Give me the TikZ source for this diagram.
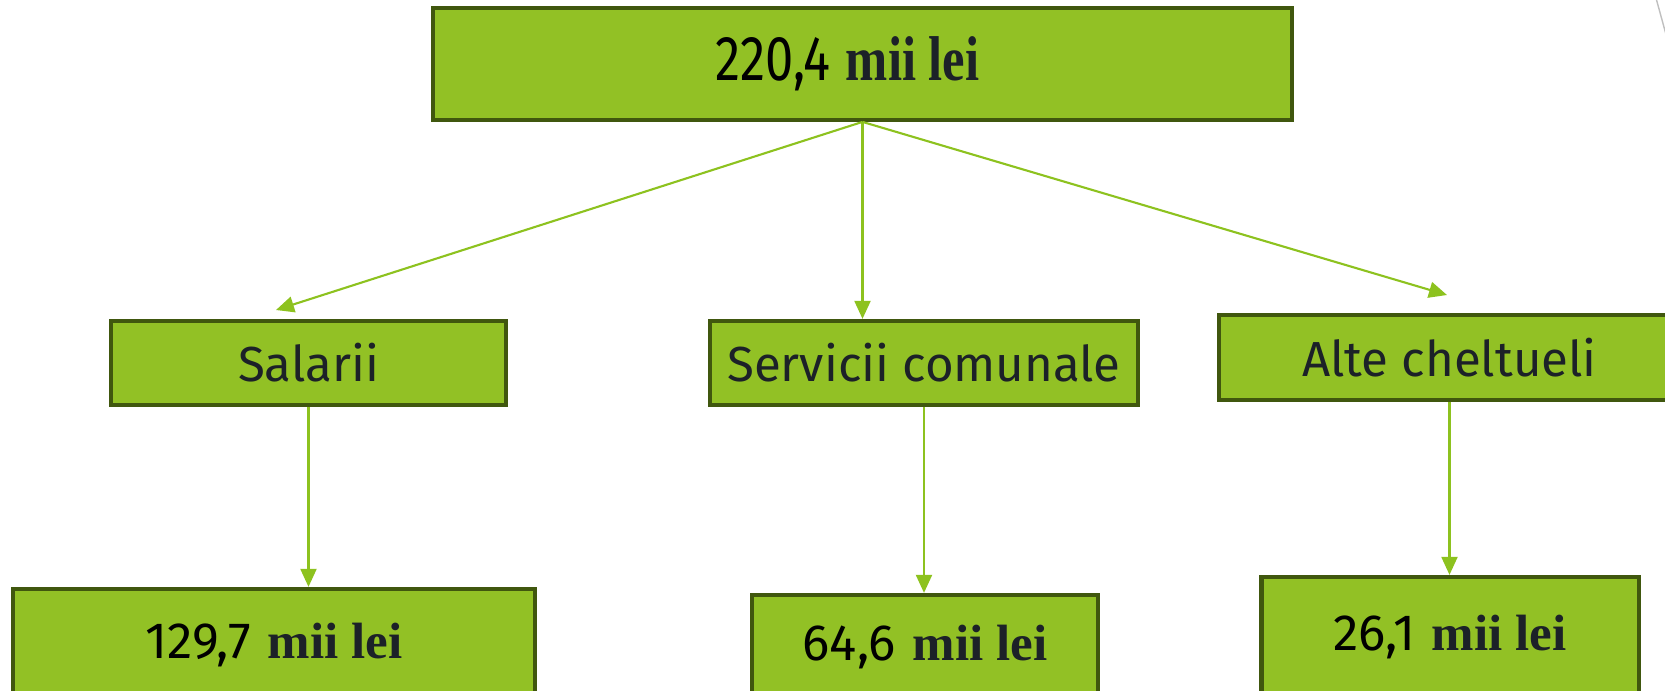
\documentclass[tikz,border=0pt]{standalone}
\usepackage{fontspec}
\usepackage{xcolor}
\newfontfamily\labelfont{Fira Sans}
\newfontfamily\unitfont{Liberation Serif}
\definecolor{boxgreen}{RGB}{146,193,37}
\definecolor{boxedge}{RGB}{64,87,14}
\definecolor{arrgreen}{RGB}{141,194,31}
\definecolor{txtdark}{RGB}{28,33,40}
\usetikzlibrary{arrows.meta}
\newcommand{\suma}[1]{{\labelfont #1} {\unitfont\bfseries\color{txtdark}mii lei}}

\begin{document}
\begin{tikzpicture}[x=0.01cm,y=-0.01cm,
box/.style={draw=boxedge,fill=boxgreen,line width=1.2pt,inner sep=0pt},
lbl/.style={font=\labelfont\fontsize{14}{17}\selectfont,text=txtdark},
num/.style={font=\fontsize{14.5}{17}\selectfont},
arr/.style={draw=arrgreen,line width=0.6pt,-{Triangle[length=0.18cm,width=0.16cm]}}]
\clip (0,0) rectangle (1665,690);
% top
\node[box,minimum width=8.59cm,minimum height=1.115cm] (total) at (862.5,64)
{\scalebox{0.8}[1]{\fontsize{18}{21}\selectfont\suma{220,4}}\hspace*{0.3cm}};
% categories
\node[box,lbl,minimum width=3.94cm,minimum height=0.84cm] (sal) at (308.5,363) {Salarii};
\node[box,lbl,minimum width=4.28cm,minimum height=0.84cm] (serv) at (924,363) {Servicii comunale};
\node[box,lbl,minimum width=4.61cm,minimum height=0.85cm] (alte) at (1449.5,357.5) {Alte cheltueli};
% sums
\node[box,num,minimum width=5.22cm,minimum height=1.12cm] (salsum) at (274,645) {\suma{129,7}};
\node[box,num,minimum width=3.46cm,minimum height=1.04cm] (servsum) at (925,647) {\suma{64,6}};
\node[box,num,minimum width=3.77cm,minimum height=1.2cm] (altesum) at (1450,637) {\suma{26,1}};
% free arrow ends
\coordinate (saltip) at (276,310);
\coordinate (altetip) at (1447,295);
% arrows
\draw[arr] (total.south) -- (saltip);
\draw[arr] (total.south) -- (total.south |- serv.north);
\draw[arr] (total.south) -- (altetip);
\draw[arr] (sal.south) -- (sal.south |- salsum.north);
\draw[arr] (serv.south) -- (serv.south |- servsum.north);
\draw[arr] (alte.south) -- (alte.south |- altesum.north);
% slide edge
\draw[gray!50,line width=0.4pt] (1656,-2) -- (1667,38);
\end{tikzpicture}
\end{document}
